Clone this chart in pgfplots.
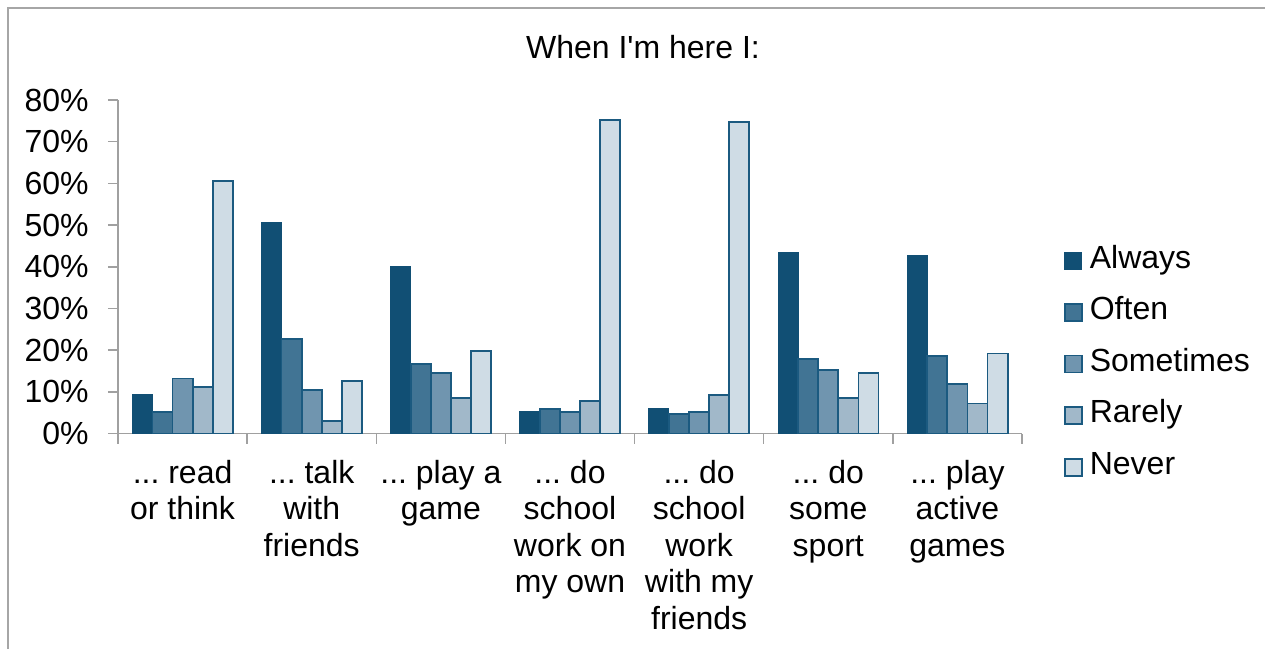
\documentclass[border=0pt]{standalone}
\usepackage{fontspec}
\setmainfont{Liberation Sans}[Ligatures=TeXOff]
\usepackage{pgfplots}
\pgfplotsset{compat=1.18}
\usepackage{pgfplotstable}
\newcommand{\dd}{.{}.{}.}
\definecolor{cA}{HTML}{114F74}
\definecolor{cO}{HTML}{417494}
\definecolor{cS}{HTML}{7095AF}
\definecolor{cR}{HTML}{A1B8C9}
\definecolor{cN}{HTML}{CFDCE5}
\definecolor{edge}{HTML}{1B5A80}
\definecolor{frame}{HTML}{A6A6A6}
\definecolor{axgray}{HTML}{A0A0A0}
\pgfplotstableread{
x a o s r n
0 9.4 5.2 13.2 11.2 60.6
1 50.6 22.6 10.4 3.0 12.5
2 40.0 16.6 14.5 8.5 19.8
3 5.2 5.8 5.2 7.8 75.2
4 5.9 4.6 5.2 9.3 74.7
5 43.3 17.9 15.2 8.5 14.5
6 42.7 18.5 11.8 7.2 19.2
}\data
\begin{document}
\begin{tikzpicture}
\path[use as bounding box] (0,0) rectangle (632.5pt,324.5pt);
\draw[color=frame, line width=0.8pt] (4pt,0) -- (4pt,320.5pt) -- (632.5pt,320.5pt);
\node[anchor=base, font=\fontsize{16}{19}\selectfont, inner sep=0pt] at (321.5pt,295pt) {When I'm here I:};
\begin{axis}[
  scale only axis, width=452pt, height=166.75pt,
  at={(59pt,107.75pt)}, anchor=south west,
  ybar=0pt, bar width=10.05pt,
  xmin=-0.5, xmax=6.5, ymin=0, ymax=80,
  axis lines*=left,
  axis line style={color=axgray, line width=0.75pt},
  tick style={color=axgray, line width=0.75pt},
  tick align=outside, major tick length=5pt,
  xtick={-0.5,0.5,1.5,2.5,3.5,4.5,5.5,6.5},
  xticklabels={{},{},{},{},{},{},{},{}},
  extra x ticks={0,1,2,3,4,5,6},
  extra x tick labels={{\dd\ read\\or think},{\dd\ talk\\with\\friends},{\dd\ play a\\game},{\dd\ do\\school\\work on\\my own},{\dd\ do\\school\\work\\with my\\friends},{\dd\ do\\some\\sport},{\dd\ play\\active\\games}},
  extra x tick style={major tick length=0pt},
  xticklabel style={align=center, inner sep=0pt, anchor=north, yshift=-13pt, font=\fontsize{16}{18.3}\selectfont},
  ytick={0,10,20,30,40,50,60,70,80},
  yticklabel={\pgfmathprintnumber{\tick}\%},
  /pgf/number format/assume math mode=true,
  yticklabel style={inner sep=0pt, anchor=east, xshift=-9.5pt, font=\fontsize{16}{18.3}\selectfont},
  legend image code/.code={\draw[#1] (0pt,-4.25pt) rectangle (8.5pt,4.25pt);},
  legend cell align=left,
  legend style={draw=none, fill=none, inner sep=0pt, outer sep=0pt,
    at={(1.0465,0.5658)}, anchor=north west,
    font=\fontsize{16}{18.3}\selectfont,
    row sep=9.9pt,
    nodes={inner sep=0pt, text height=11.6pt, text depth=4.3pt},
    /tikz/every odd column/.append style={column sep=3.5pt}},
]
\addplot[fill=cA, draw=cA, line width=0.5pt] table[x=x,y=a]{\data};
\addplot[fill=cO, draw=edge, line width=0.9pt] table[x=x,y=o]{\data};
\addplot[fill=cS, draw=edge, line width=0.9pt] table[x=x,y=s]{\data};
\addplot[fill=cR, draw=edge, line width=0.9pt] table[x=x,y=r]{\data};
\addplot[fill=cN, draw=edge, line width=0.9pt] table[x=x,y=n]{\data};
\legend{Always,Often,Sometimes,Rarely,Never}
\end{axis}
\end{tikzpicture}
\end{document}
